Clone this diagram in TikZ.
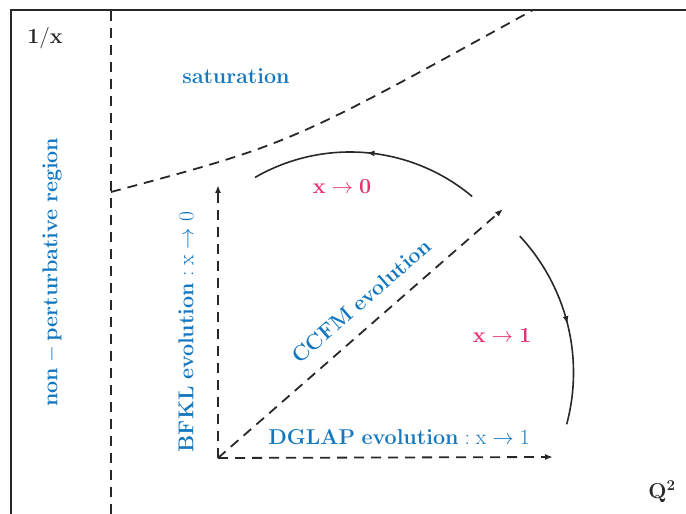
\RequirePackage{fix-cm}
\documentclass[tikz,border=0pt]{standalone}
\usepackage{amsmath}
\usepackage{xcolor}
\usepackage{tikz}
\usetikzlibrary{arrows.meta,decorations.markings}
\definecolor{evblue}{RGB}{20,120,192}
\definecolor{evpink}{RGB}{232,48,110}
\definecolor{axgray}{RGB}{40,40,40}

\begin{document}
\begin{tikzpicture}[
  x=1pt, y=1pt,
  txt/.style={font=\fontsize{21.5}{26}\selectfont, inner sep=0pt},
  blu/.style={txt, text=evblue},
  pnk/.style={txt, text=evpink},
  gry/.style={txt, text=axgray},
  frame/.style={line width=1.9pt, draw=axgray},
  dsh/.style={line width=1.8pt, draw=axgray, dash pattern=on 10pt off 7pt},
  arr/.style={dsh, -{Latex[length=8pt, width=6pt]}},
  flow/.style={line width=1.6pt, draw=axgray, postaction={decorate},
    decoration={markings, mark=at position 0.5 with {\arrow{Latex[length=8pt, width=6pt]}}}}
]
\useasboundingbox (0,0) rectangle (686,514);

% axes frame
\coordinate (fbl) at (11,0);
\coordinate (ftl) at (11,504);
\coordinate (ftr) at (686,504);
\draw[frame] (fbl) -- (ftl) -- (ftr);

% region borders
\coordinate (npb) at (111,0);
\coordinate (npt) at (111,504);
\draw[dsh] (npb) -- (npt);
\coordinate (sata) at (111,322);
\coordinate (satb) at (533,504);
\draw[dsh] (sata) .. controls (290,370) .. (satb);

% evolution directions
\coordinate (o) at (218,56);
\coordinate (bfkl) at (218,329);
\coordinate (dglap) at (553,57);
\coordinate (ccfm) at (503,305);
\draw[arr] (o) -- (bfkl);
\draw[arr] (o) -- (dglap);
\draw[arr] (o) -- (ccfm);

% x limits
\coordinate (topc) at (350,172);
\coordinate (rgtc) at (373.5,141.5);
\draw[flow] (topc) ++(50:190pt) arc[start angle=50, end angle=120, radius=190pt];
\draw[flow] (rgtc) ++(43:200pt) arc[start angle=43, end angle=-15, radius=200pt];

% labels
\node[gry] (onex) at (45,476) {$\mathbf{1/x}$};
\node[gry] (qsq) at (662,22) {$\mathbf{Q^2}$};
\node[blu] (sat) at (236,438) {$\mathbf{saturation}$};
\node[blu, rotate=90] (nonp) at (52,242) {$\mathbf{non-perturbative\ region}$};
\node[blu, rotate=90] (bfkllbl) at (186,182) {$\mathbf{BFKL~evolution}:\mathrm{x}\rightarrow 0$};
\node[blu] (dglaplbl) at (399,77) {$\mathbf{DGLAP~evolution}:\mathrm{x}\rightarrow 1$};
\node[blu, rotate=41] (ccfmlbl) at (361,213) {$\mathbf{CCFM~evolution}$};
\node[pnk] (xzero) at (342,327) {$\mathbf{x}\rightarrow\mathbf{0}$};
\node[pnk] (xone) at (502,178) {$\mathbf{x}\rightarrow\mathbf{1}$};
\end{tikzpicture}
\end{document}
